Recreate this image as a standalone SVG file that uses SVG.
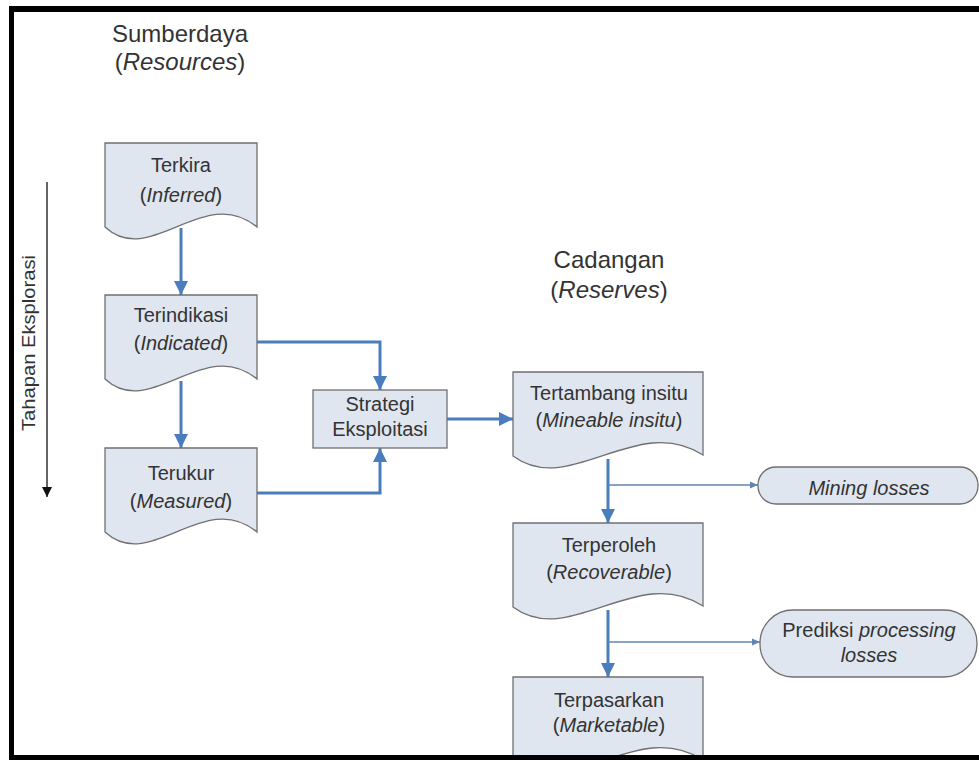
<svg xmlns="http://www.w3.org/2000/svg" width="979" height="760" viewBox="0 0 979 760">
<style>
.doc{fill:#dfe6f0;stroke:#707070;stroke-width:1.3}
.t{font-family:"Liberation Sans",Arial,sans-serif;font-size:20px;fill:#333;text-anchor:middle}
.h{font-family:"Liberation Sans",Arial,sans-serif;font-size:24px;fill:#333;text-anchor:middle}
.r{font-family:"Liberation Sans",Arial,sans-serif;font-size:18px;fill:#333;text-anchor:middle}
.i{font-style:italic}
.c{fill:none;stroke:#4a7dbd;stroke-width:3}
.cs{fill:none;stroke:#5f85b3;stroke-width:1.5}
</style>
<defs>
<marker id="ab" markerUnits="userSpaceOnUse" markerWidth="16" markerHeight="16" viewBox="0 0 16 16" refX="15" refY="8" orient="auto">
<path d="M1,1 L15,8 L1,15 Z" fill="#4a7dbd"/>
</marker>
<marker id="as" markerUnits="userSpaceOnUse" markerWidth="10" markerHeight="10" viewBox="0 0 10 10" refX="9" refY="5" orient="auto">
<path d="M1,1.5 L9,5 L1,8.5 Z" fill="#5f85b3"/>
</marker>
<marker id="ak" markerUnits="userSpaceOnUse" markerWidth="12" markerHeight="12" viewBox="0 0 12 12" refX="11" refY="6" orient="auto">
<path d="M1,1 L11,6 L1,11 Z" fill="#111"/>
</marker>
</defs>
<rect x="0" y="0" width="979" height="760" fill="#fff"/>

<g id="frame">
<rect x="9" y="6" width="970" height="6" fill="#000"/>
<rect x="9" y="6" width="5" height="754" fill="#000"/>
</g>

<g id="heading-resources">
<text class="h" x="180" y="42">Sumberdaya</text>
<text class="h" x="180" y="70">(<tspan class="i">Resources</tspan>)</text>
</g>
<g id="heading-reserves">
<text class="h" x="609" y="268">Cadangan</text>
<text class="h" x="609" y="298">(<tspan class="i">Reserves</tspan>)</text>
</g>

<g id="stage-axis">
<line x1="47" y1="182" x2="47" y2="497" stroke="#111" stroke-width="1.3" marker-end="url(#ak)"/>
<text class="r" transform="translate(35,343) rotate(-90)" textLength="176" lengthAdjust="spacingAndGlyphs">Tahapan Eksplorasi</text>
</g>

<g id="connectors">
<line class="c" x1="181" y1="228" x2="181" y2="295" marker-end="url(#ab)"/>
<line class="c" x1="181" y1="381" x2="181" y2="448" marker-end="url(#ab)"/>
<path class="c" d="M257,342 H380 V390" marker-end="url(#ab)"/>
<path class="c" d="M257,493 H380 V448" marker-end="url(#ab)"/>
<line class="c" x1="447" y1="419" x2="513" y2="419" marker-end="url(#ab)"/>
<line class="c" x1="608" y1="459" x2="608" y2="523" marker-end="url(#ab)"/>
<line class="cs" x1="608" y1="485" x2="758" y2="485" marker-end="url(#as)"/>
<line class="c" x1="608" y1="610" x2="608" y2="677" marker-end="url(#ab)"/>
<line class="cs" x1="608" y1="642" x2="760" y2="642" marker-end="url(#as)"/>
</g>

<g id="terkira">
<path class="doc" d="M105,143 H257 V227 C203.8,183 150.6,269 105,227 Z"/>
<text class="t" x="181" y="172">Terkira</text>
<text class="t" x="181" y="202">(<tspan class="i">Inferred</tspan>)</text>
</g>

<g id="terindikasi">
<path class="doc" d="M105,295 H257 V379 C203.8,335 150.6,421 105,379 Z"/>
<text class="t" x="181" y="322">Terindikasi</text>
<text class="t" x="181" y="350">(<tspan class="i">Indicated</tspan>)</text>
</g>

<g id="terukur">
<path class="doc" d="M105,448 H257 V532 C203.8,488 150.6,574 105,532 Z"/>
<text class="t" x="181" y="480">Terukur</text>
<text class="t" x="181" y="508">(<tspan class="i">Measured</tspan>)</text>
</g>

<g id="strategi">
<rect class="doc" x="313" y="390" width="134" height="58"/>
<text class="t" x="380" y="411">Strategi</text>
<text class="t" x="380" y="436">Eksploitasi</text>
</g>

<g id="tertambang">
<path class="doc" d="M513,372 H703 V455 C636.5,412 570,498 513,456 Z"/>
<text class="t" x="609" y="400">Tertambang insitu</text>
<text class="t" x="609" y="427">(<tspan class="i">Mineable insitu</tspan>)</text>
</g>

<g id="mining-losses">
<rect class="doc" x="758" y="467" width="220" height="37" rx="18" ry="18"/>
<text class="t i" x="869" y="495">Mining losses</text>
</g>

<g id="terperoleh">
<path class="doc" d="M513,523 H703 V606 C636.5,563 570,649 513,607 Z"/>
<text class="t" x="609" y="552">Terperoleh</text>
<text class="t" x="609" y="579">(<tspan class="i">Recoverable</tspan>)</text>
</g>

<g id="prediksi">
<rect class="doc" x="760" y="610" width="217" height="67" rx="33" ry="33"/>
<text class="t" x="869" y="637">Prediksi <tspan class="i">processing</tspan></text>
<text class="t i" x="869" y="662">losses</text>
</g>

<g id="terpasarkan">
<path class="doc" d="M513,677 H703 V760 C636.5,717 570,803 513,761 Z"/>
<text class="t" x="609" y="707">Terpasarkan</text>
<text class="t" x="609" y="732">(<tspan class="i">Marketable</tspan>)</text>
</g>

<rect id="frame-bottom" x="9" y="755" width="970" height="5" fill="#000"/>
</svg>
